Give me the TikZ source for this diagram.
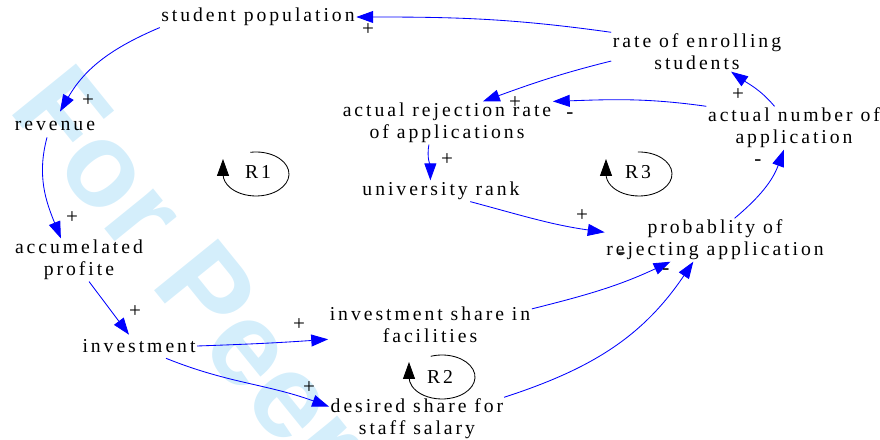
\documentclass[tikz,border=0pt]{standalone}
\usepackage{fontspec}
\setmainfont[LetterSpace=15]{Liberation Serif}
\newfontfamily\wmfont{Liberation Sans}
\usetikzlibrary{arrows.meta}

\definecolor{wmblue}{RGB}{212,238,251}

\tikzset{
  var/.style={font=\fontsize{14}{15.6}\selectfont, align=center, inner sep=1pt},
  sign/.style={font=\fontsize{15}{16}\selectfont, inner sep=0pt},
  link/.style={->, blue, line width=0.6pt},
  loopsym/.style={->, black, line width=0.6pt},
  looplabel/.style={font=\fontsize{14}{15}\selectfont, inner sep=0pt},
  wm/.style={font=\wmfont\bfseries\fontsize{85}{85}\selectfont, text=wmblue,
    rotate=-51, anchor=base west, inner sep=0pt}
}

\begin{document}
\begin{tikzpicture}[x=0.025cm, y=0.025cm, >={Triangle[length=12pt,width=8.5pt]}]

      \useasboundingbox (0,0) rectangle (880,440);
      \clip (0,0) rectangle (880,440);

      % watermark
      \node[wm] (wmark) at (7,331) {For Peer Review};

      % ============================================================
      % VARIABLES
      % ============================================================

      \node[var] (pop)     at (258,423) {student population};
      \node[var] (enroll)  at (697,388) {rate of enrolling\\students};
      \node[var] (rejrate) at (447,317) {actual rejection rate\\of applications};
      \node[var] (nappl)   at (794,312) {actual number of\\application};
      \node[var] (revenue) at (55,314)  {revenue};
      \node[var] (rank)    at (441,249) {university rank};
      \node[var] (prob)    at (715,200) {probablity of\\rejecting application};
      \node[var] (profit)  at (79,180)  {accumelated\\profite};
      \node[var] (invest)  at (139,94)  {investment};
      \node[var] (facil)   at (430,115) {investment share in\\facilities};
      \node[var] (salary)  at (417,21)  {desired share for\\staff salary};

      % ============================================================
      % LINKS
      % ============================================================

      % loop R3 side
      \draw[link] (enroll.north west) to[out=172, in=0] (pop.east);
      \draw[link] (enroll.186) to[out=194, in=20] (rejrate.31);
      \draw[link] (nappl.north west) to[out=172, in=2] (rejrate.north east);
      \draw[link] (nappl.132) to[out=130, in=-35] (enroll.-30);
      \draw[link] (prob.48) to[out=40, in=250] (nappl.-115);
      \draw[link] (rejrate.230) to[out=260, in=90] (rank.135);
      \draw[link] (rank.-20) to[out=-15, in=172] (prob.176);

      % loop R2 side
      \draw[link] (facil.9) to[out=14, in=205] (prob.206);
      \draw[link] (salary.14) to[out=18, in=236] (prob.225);

      % loop R1 side
      \draw[link] (pop.south west) to[out=203, in=60]
        ([shift={(5,8)}]revenue.north);
      \draw[link] ([shift={(-8,-5)}]revenue.south) to[out=255, in=112]
        (profit.130);
      \draw[link] (profit.-65) -- ([shift={(-10,3)}]invest.north);
      \draw[link] (invest.east) to[out=2, in=184] (facil.188);
      \draw[link] ([shift={(27,-4)}]invest.south) to[out=-22, in=160]
        (salary.172);

      % polarities
      \node[sign] (s1)  at (368,410) {+};
      \node[sign] (s2)  at (515,337) {+};
      \node[sign] (s3)  at (570,324) {-};
      \node[sign] (s4)  at (738,345) {+};
      \node[sign] (s5)  at (758,277) {-};
      \node[sign] (s6)  at (447,280) {+};
      \node[sign] (s7)  at (582,224) {+};
      \node[sign] (s8)  at (622,184) {-};
      \node[sign] (s9)  at (666,168) {-};
      \node[sign] (s10) at (88,339)  {+};
      \node[sign] (s11) at (72,222)  {+};
      \node[sign] (s12) at (135,128) {+};
      \node[sign] (s13) at (299,115) {+};
      \node[sign] (s14) at (309,52)  {+};

      % ============================================================
      % LOOPS
      % ============================================================

      \node[looplabel] (r1) at (258,268) {R1};
      \draw[loopsym] ([shift={(100:33 and 22)}]256,266)
        arc[start angle=100, end angle=-180, x radius=33, y radius=22]
        -- ++(0,15);

      \node[looplabel] (r2) at (440,63) {R2};
      \draw[loopsym] ([shift={(110:33 and 22)}]442,63)
        arc[start angle=110, end angle=-180, x radius=33, y radius=22]
        -- ++(0,15);

      \node[looplabel] (r3) at (638,268) {R3};
      \draw[loopsym] ([shift={(92:33 and 22)}]639,266)
        arc[start angle=92, end angle=-180, x radius=33, y radius=22]
        -- ++(0,15);

\end{tikzpicture}
\end{document}
